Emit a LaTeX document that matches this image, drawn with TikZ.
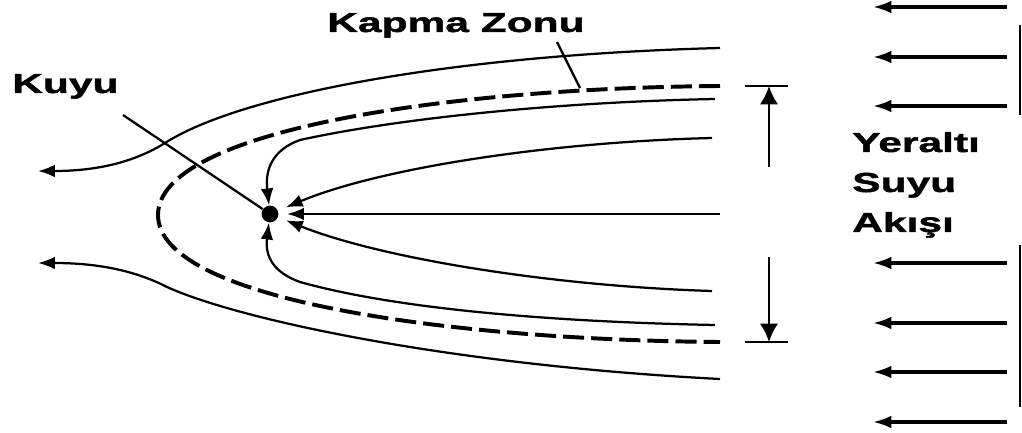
\documentclass[tikz,border=0pt]{standalone}
\usepackage{fontspec}
\newfontfamily\etiketfont[FakeStretch=1.55,FakeBold=1.6]{Liberation Sans}
\usetikzlibrary{arrows.meta}
\tikzset{
    akim/.style={line width=1.6pt, -{Latex[length=12pt,width=9pt]}},
    akimYan/.style={akim, shorten >=6pt},
    sinir/.style={line width=2.8pt, dash pattern=on 15pt off 5pt},
    cizgi/.style={line width=1.6pt},
    yeraltiOk/.style={line width=2.2pt, -{Latex[length=13pt,width=9pt]}},
    olcu/.style={line width=1.8pt, -{Latex[length=13pt,width=13pt]}},
    etiket/.style={
        font=\etiketfont\bfseries\fontsize{19.5}{24}\selectfont,
        inner sep=0pt,
        anchor=base west
    }
}

\begin{document}
\begin{tikzpicture}[x=0.025cm, y=-0.025cm]
    \useasboundingbox (0,0) rectangle (1022,433);

    % kuyu ve etiketler
    \node[circle, fill, inner sep=0pt, minimum size=0.42cm] (kuyu) at (270,214) {};
    \node[etiket] (kuyuYazi) at (12,93) {Kuyu};
    \node[etiket] (kapma) at (327,32) {Kapma Zonu};
    \node[etiket] (yeralti) at (852,152) {Yeraltı};
    \node[etiket] (suyu) at (852,192) {Suyu};
    \node[etiket] (akisi) at (852,232) {Akışı};

    % akim cizgilerinin baslangiclari
    \coordinate (ust) at (720,48);
    \coordinate (ustUc) at (38,171);
    \coordinate (alt) at (720,379);
    \coordinate (altUc) at (38,263);
    \coordinate (a1) at (715,99);
    \coordinate (a2) at (712,138);
    \coordinate (a3) at (720,214);
    \coordinate (a4) at (712,291);
    \coordinate (a5) at (715,325);

    % kapma zonu siniri
    \draw[sinir] (720,86) .. controls (450,88) and (158,130) .. (158,215)
        .. controls (158,300) and (450,340) .. (720,342);

    % kuyuya gelen akim
    \draw[akim] (a1) .. controls (560,102) and (400,118) .. (300,140)
        .. controls (272,150) and (265,170) .. (kuyu);
    \draw[akimYan] (a2) .. controls (550,142) and (380,168) .. (kuyu);
    \draw[akimYan] (a3) -- (kuyu);
    \draw[akimYan] (a4) .. controls (550,286) and (380,258) .. (kuyu);
    \draw[akim] (a5) .. controls (560,322) and (400,310) .. (300,282)
        .. controls (272,272) and (265,255) .. (kuyu);

    % kuyuyu gecen akim
    \draw[akim] (ust) .. controls (450,55) and (240,95) .. (165,143)
        .. controls (125,168) and (80,171) .. (ustUc);
    \draw[akim] (alt) .. controls (450,365) and (240,320) .. (167,287)
        .. controls (130,268) and (90,263) .. (altUc);

    % isaret cizgileri
    \coordinate (kuyuKuyruk) at (123,115);
    \draw[cizgi] (kuyuKuyruk) -- (kuyu);
    \coordinate (kapmaKuyruk) at (557,42);
    \coordinate (kapmaUc) at (580,88);
    \draw[cizgi] (kapmaKuyruk) -- (kapmaUc);

    % genislik olcusu
    \coordinate (olcuUst) at (769,86);
    \coordinate (olcuAlt) at (769,342);
    \draw[line width=1.8pt] (745,86) -- (788,86);
    \draw[line width=1.8pt] (745,342) -- (788,342);
    \coordinate (olcuUstBas) at (769,167);
    \coordinate (olcuAltBas) at (769,257);
    \draw[olcu] (olcuUstBas) -- (olcuUst);
    \draw[olcu] (olcuAltBas) -- (olcuAlt);

    % yeralti suyu akisi oklari
    \foreach \y [count=\i] in {7,57,106,263,323,372,422} {
        \coordinate (sag\i) at (1007,\y);
        \coordinate (sol\i) at (873,\y);
        \draw[yeraltiOk] (sag\i) -- (sol\i);
    }
    \draw[line width=1.8pt] (1020,25) -- (1020,115);
    \draw[line width=1.8pt] (1020,245) -- (1020,407);
\end{tikzpicture}
\end{document}
